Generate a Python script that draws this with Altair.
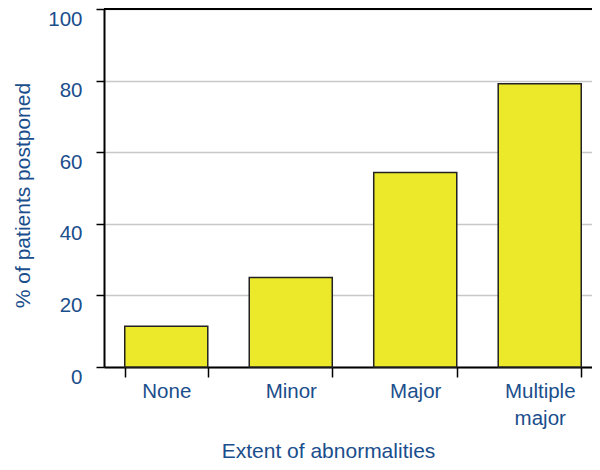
import altair as alt
import pandas as pd

categories = ["None", "Minor", "Major", "Multiple major"]
values = [11.4, 25.0, 54.3, 79.1]
y_ticks = [0, 20, 40, 60, 80, 100]
top_line = [100]

BLUE = "#1a4e8c"
FONT = "Liberation Sans"

df = pd.DataFrame({"cat": categories, "pct": values})
top_df = pd.DataFrame({"v": top_line})

y_scale = alt.Scale(domain=[0, 100], nice=False)

bars = alt.Chart(df).mark_bar(
    fill="#ece92b", stroke="#222222", strokeWidth=1.5
).encode(
    x=alt.X(
        "cat:N",
        sort=categories,
        scale=alt.Scale(paddingInner=0.333, paddingOuter=0.1667, range=[0, 498]),
        axis=alt.Axis(
            title="Extent of abnormalities",
            labelAngle=0,
            tickBand="extent",
            tickSize=10,
            tickColor="black",
            tickWidth=1.5,
            domainColor="black",
            domainWidth=2,
            labelFont=FONT,
            labelFontSize=20.5,
            labelColor=BLUE,
            labelPadding=4.5,
            labelBaseline="top",
            labelLineHeight=27,
            labelExpr="datum.label == 'Multiple major' ? ['Multiple', 'major'] : datum.label",
            titleFont=FONT,
            titleFontSize=21,
            titleFontWeight="normal",
            titleColor=BLUE,
            titleX=224,
            titleY=90,
            titleAlign="center",
            titleBaseline="alphabetic",
            grid=False,
        ),
    ),
    y=alt.Y(
        "pct:Q",
        scale=y_scale,
        axis=alt.Axis(
            values=y_ticks,
            title="% of patients postponed",
            tickSize=8,
            tickColor="black",
            tickWidth=1.5,
            domainColor="black",
            domainWidth=2,
            labelFont=FONT,
            labelFontSize=20.5,
            labelColor=BLUE,
            labelPadding=14,
            labelBaseline="top",
            gridColor="#c8c8c8",
            gridWidth=1.5,
            titleFont=FONT,
            titleFontSize=21,
            titleFontWeight="normal",
            titleColor=BLUE,
            titleAngle=270,
            titleX=-75,
            titleY=186,
            titleAlign="center",
            titleBaseline="alphabetic",
        ),
    ),
)

rule = alt.Chart(top_df).mark_rule(color="black", strokeWidth=2).encode(
    y=alt.Y("v:Q", scale=y_scale)
)

chart = alt.layer(bars, rule).properties(
    width=488,
    height=358,
    padding={"left": 96, "top": 1, "right": 0, "bottom": 95},
    autosize="none",
    background="white",
).configure_view(stroke=None)

chart.save("out.html", embed_options={"renderer": "svg", "actions": False})
